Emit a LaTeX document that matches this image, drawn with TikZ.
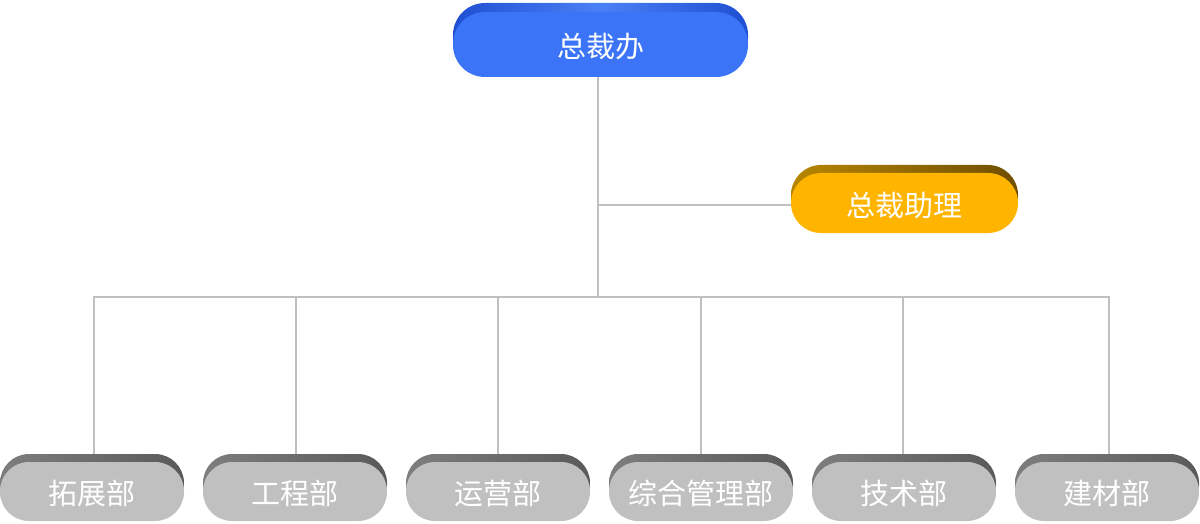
\documentclass[tikz,border=0pt]{standalone}
\usepackage{fontspec}
\newfontfamily\cjk{Noto Sans CJK SC}
\begin{document}
\begin{tikzpicture}[x=1pt,y=-1pt]
\definecolor{linec}{HTML}{C0C0C0}
\definecolor{blueF}{HTML}{3B74F6}
\definecolor{blueB1}{HTML}{1F4FD2}
\definecolor{blueB2}{HTML}{4A80F5}
\definecolor{yelF}{HTML}{FFB400}
\definecolor{yelB1}{HTML}{B78600}
\definecolor{yelB2}{HTML}{6E4E00}
\definecolor{grayF}{HTML}{C0C0C0}
\definecolor{grayB1}{HTML}{5A5A5A}
\definecolor{grayB2}{HTML}{7E7E7E}
\tikzset{
  face/.style={rounded corners=29pt, inner sep=0pt, text=white, text height=26pt, text depth=0pt, font=\cjk\fontsize{29}{32}\selectfont},
  backl/.style={rounded corners=29pt, inner sep=0pt, draw=none},
  conn/.style={draw=linec, line width=1.7pt},
}
\useasboundingbox (0,0) rectangle (1200,524);
% top node
\node[backl, left color=blueB1, right color=blueB1, middle color=blueB2, rounded corners=32pt, minimum width=295pt, minimum height=67pt] (topb) at (600.5,36.5) {};
\node[face, fill=blueF, minimum width=295pt, minimum height=65pt, rounded corners=32pt] (top) at (600.5,44.5) {总裁办};
% assistant
\node[backl, left color=yelB1, right color=yelB2, rounded corners=30pt, minimum width=227pt, minimum height=61pt] (asstb) at (904.5,195.5) {};
\node[face, fill=yelF, minimum width=227pt, minimum height=60pt, rounded corners=30pt] (asst) at (904.5,203) {总裁助理};
% bottom nodes
\foreach \n/\x/\t in {d1/0/拓展部, d2/203/工程部, d3/406/运营部, d4/609/综合管理部, d5/812/技术部, d6/1015/建材部}{
  \node[backl, left color=grayB2, right color=grayB1, minimum width=184pt, minimum height=60pt] (\n b) at ({\x+92},484) {};
  \node[face, fill=grayF, minimum width=184pt, minimum height=59pt] (\n) at ({\x+92},491.5) {\t};
}
% connectors
\coordinate (bus) at (598,297);
\coordinate (br) at (598,205);
\draw[conn] (top.south -| bus) -- (bus);
\draw[conn] (br) -- (asst.west |- br);
\draw[conn] (d1b.north -| 94,0) |- (bus) -| (d6b.north -| 1109,0);
\foreach \n/\x in {d2/296,d3/498,d4/701,d5/903}{
  \draw[conn] (\x,297) -- (\n b.north -| \x,0);
}
\end{tikzpicture}
\end{document}
